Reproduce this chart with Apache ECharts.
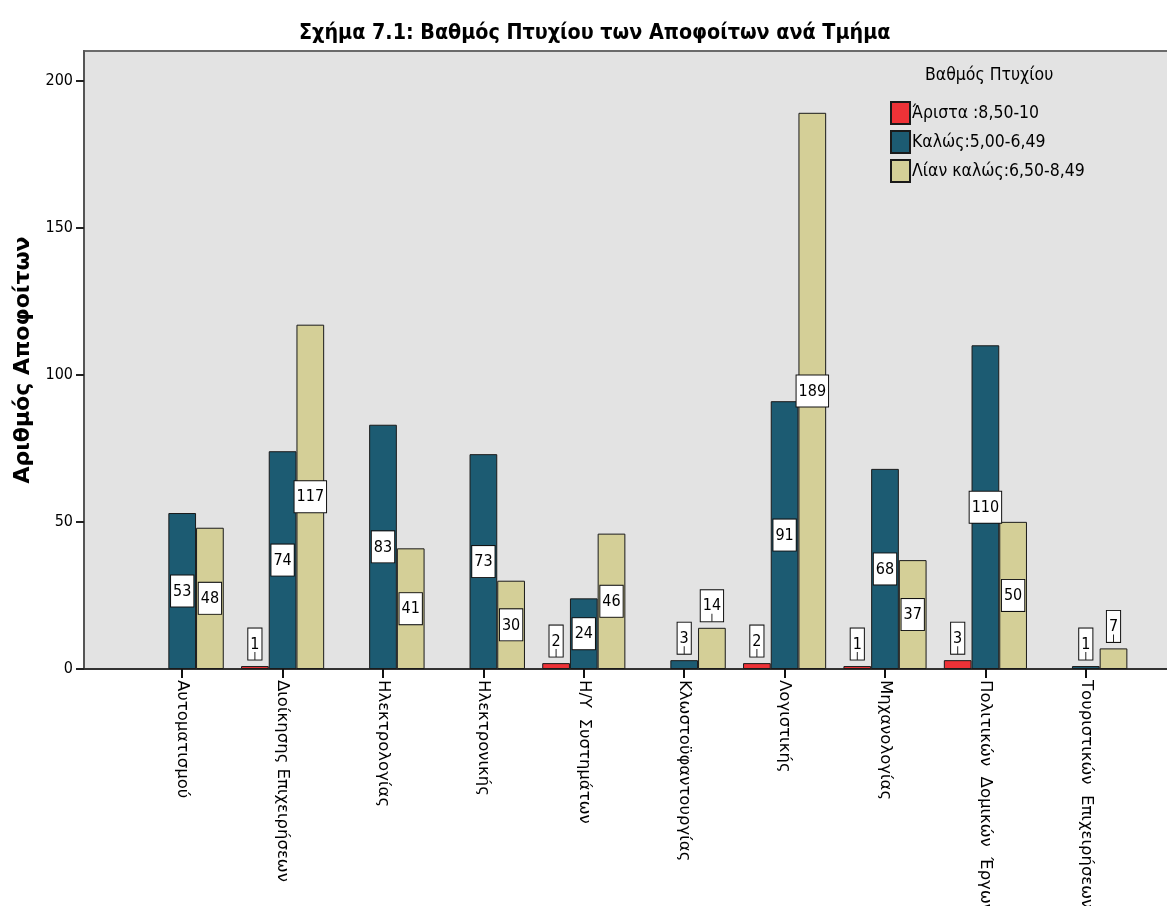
<!DOCTYPE html>
<html>
<head>
<meta charset="utf-8">
<script src="https://cdn.jsdelivr.net/npm/echarts@6/dist/echarts.min.js"></script>
<style>
html,body{margin:0;padding:0;background:#fff;}
#chart{width:1167px;height:906px;}
</style>
</head>
<body>
<div id="chart"></div>
<script>
const categories = ['Αυτοματισμού','Διοίκησης Επιχειρήσεων','Ηλεκτρολογίας','Ηλεκτρονικής','Η/Υ  Συστημάτων','Κλωστοϋφαντουργίας','Λογιστικής','Μηχανολογίας','Πολιτικών  Δομικών  Έργων','Τουριστικών  Επιχειρήσεων'];
const seriesNames = ['Άριστα :8,50-10','Καλώς:5,00-6,49','Λίαν καλώς:6,50-8,49'];
const aristaValues = [null, 1, null, null, 2, null, 2, 1, 3, null];
const kalosValues = [53, 74, 83, 73, 24, 3, 91, 68, 110, 1];
const lianKalosValues = [48, 117, 41, 30, 46, 14, 189, 37, 50, 7];
const yTickValues = [0, 50, 100, 150, 200];

const NARROW = "'Liberation Sans Narrow','Arial Narrow','DejaVu Sans Condensed',sans-serif";
const colors = ['#ee3237', '#1c5b72', '#d4cf97'];
const INSIDE_MIN = 20;

function buildData(vals) {
  return vals.map(v => {
    if (v === null) return '-';
    if (v >= INSIDE_MIN) {
      return { value: v, label: { show: true, position: 'inside', formatter: '{box|{c}}' } };
    }
    return { value: v, label: { show: true, position: 'top', distance: 6, formatter: '{box|{c}}\n{line| }' } };
  });
}

const labelRich = {
  box: { backgroundColor: '#fff', borderColor: '#111', borderWidth: 1, padding: [8, 2, 7, 2],
         fontFamily: NARROW, fontSize: 16, color: '#000', lineHeight: 16, align: 'center' },
  line: { width: 1, height: 8, lineHeight: 8, fontSize: 1, backgroundColor: '#222', align: 'center' }
};

function makeSeries(name, vals, color) {
  return {
    name: name, type: 'bar', xAxisIndex: 1, yAxisIndex: 1,
    barWidth: '27.6%', barGap: '0%',
    itemStyle: { color: color, borderColor: '#1a1a1a', borderWidth: 1 },
    label: { show: false, rich: labelRich },
    emphasis: { disabled: true },
    data: buildData(vals)
  };
}

const chart = echarts.init(document.getElementById('chart'), null, { renderer: 'canvas' });
chart.setOption({
  animation: false,
  backgroundColor: '#ffffff',
  title: [
    { text: 'Σχήμα 7.1: Βαθμός Πτυχίου των Αποφοίτων ανά Τμήμα', left: 299, top: 23, padding: 0,
      textStyle: { fontFamily: NARROW, fontWeight: 'bold', fontSize: 21.3, color: '#000' } },
    { text: 'Βαθμός Πτυχίου', left: 925, top: 66, padding: 0,
      textStyle: { fontFamily: NARROW, fontWeight: 'normal', fontSize: 17.5, color: '#000' } }
  ],
  legend: {
    orient: 'vertical', left: 890, top: 101, padding: 0, itemWidth: 19, itemHeight: 22, itemGap: 5,
    icon: 'rect', selectedMode: false,
    textStyle: { fontFamily: NARROW, fontSize: 17.5, lineHeight: 22, color: '#000', padding: [0, 0, 0, -3] },
    data: seriesNames
  },
  grid: [
    { left: 84, right: -3, top: 51, bottom: 237, show: true, backgroundColor: '#e3e3e3',
      borderColor: '#6b6b6b', borderWidth: 2, containLabel: false, outerBoundsMode: 'none' },
    { left: 132, right: 31, top: 51, bottom: 237, containLabel: false, outerBoundsMode: 'none' }
  ],
  xAxis: [
    { type: 'value', gridIndex: 0, min: 0, max: 1, show: true,
      axisLine: { show: true, lineStyle: { color: '#333', width: 2 } },
      axisTick: { show: false }, axisLabel: { show: false }, splitLine: { show: false } },
    { type: 'category', gridIndex: 1, data: categories,
      axisLine: { show: false },
      axisTick: { show: true, alignWithLabel: true, length: 9, lineStyle: { color: '#111', width: 2 } },
      axisLabel: { rotate: -90, margin: 11, fontFamily: "'DejaVu Sans',sans-serif", fontSize: 16.5, color: '#000', interval: 0 } }
  ],
  yAxis: [
    { type: 'value', gridIndex: 0, min: 0, max: 210,
      name: 'Αριθμός Αποφοίτων', nameLocation: 'middle', nameGap: 44, nameRotate: 90,
      nameTextStyle: { fontFamily: "'DejaVu Sans',sans-serif", fontWeight: 'bold', fontSize: 22, color: '#000' },
      axisLine: { show: true, lineStyle: { color: '#555', width: 2 } },
      axisTick: { show: true, length: 8, customValues: yTickValues, lineStyle: { color: '#222', width: 2 } },
      axisLabel: { margin: 11, customValues: yTickValues, fontFamily: NARROW, fontSize: 16, color: '#000' },
      splitLine: { show: false } },
    { type: 'value', gridIndex: 1, min: 0, max: 210, show: false, splitLine: { show: false } }
  ],
  series: [
    makeSeries(seriesNames[0], aristaValues, colors[0]),
    makeSeries(seriesNames[1], kalosValues, colors[1]),
    makeSeries(seriesNames[2], lianKalosValues, colors[2])
  ]
});
</script>
</body>
</html>
